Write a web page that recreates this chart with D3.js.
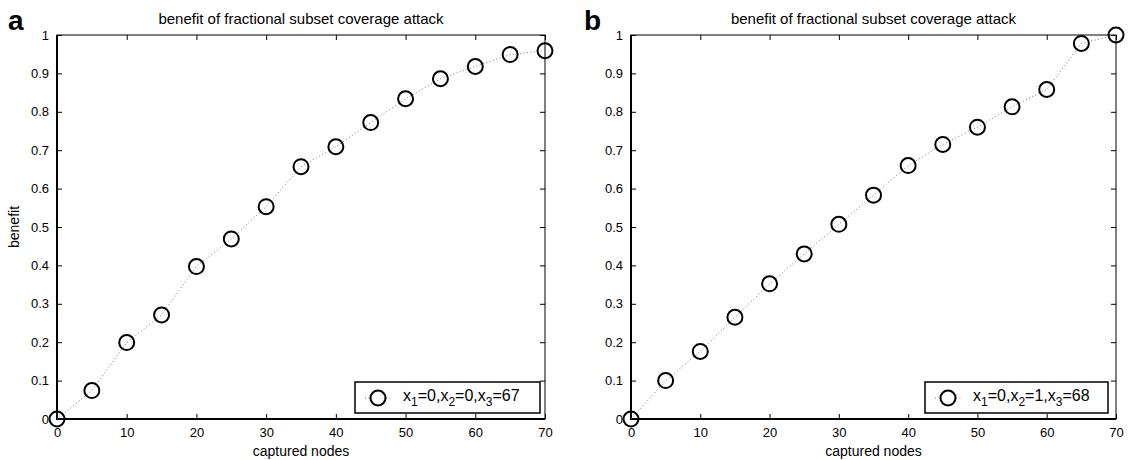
<!DOCTYPE html>
<html>
<head>
<meta charset="utf-8">
<script src="https://cdn.jsdelivr.net/npm/d3@7"></script>
<style>
  body { margin: 0; background: #fff; }
  svg { font-family: "Liberation Sans", Arial, sans-serif; }
</style>
</head>
<body>
<div id="chart"></div>
<script>
// captured nodes (x values)
var nodes = [0, 5, 10, 15, 20, 25, 30, 35, 40, 45, 50, 55, 60, 65, 70];
// benefit, panel a
var benefitA = [0, 0.074, 0.199, 0.271, 0.397, 0.469, 0.553, 0.657, 0.709, 0.772, 0.834, 0.886, 0.918, 0.949, 0.959];
// benefit, panel b
var benefitB = [0, 0.100, 0.176, 0.265, 0.352, 0.430, 0.507, 0.583, 0.660, 0.715, 0.760, 0.813, 0.858, 0.978, 1.0];

var xTicks = [0, 10, 20, 30, 40, 50, 60, 70];
var yTicks = [0, 0.1, 0.2, 0.3, 0.4, 0.5, 0.6, 0.7, 0.8, 0.9, 1];
var panelLetters = ["a", "b"];
var titleText = "benefit of fractional subset coverage attack";
var xLabel = "captured nodes";
var yLabel = "benefit";
// legend: x1, x2, x3 values per panel
var legendA = ["0", "0", "67"];
var legendB = ["0", "1", "68"];

var width = 1128, height = 460;

var svg = d3.select("#chart").append("svg")
  .attr("width", width)
  .attr("height", height);

// one panel per data set
var panels = [
  { letter: panelLetters[0], values: benefitA, legend: legendA, left: 57, right: 545, letterX: 8, legRight: 540 },
  { letter: panelLetters[1], values: benefitB, legend: legendB, left: 631, right: 1116, letterX: 584, legRight: 1108 }
];

var plotTop = 35, plotBottom = 419;

panels.forEach(function(p) {
  var x = d3.scaleLinear().domain([0, 70]).range([p.left, p.right]);
  var y = d3.scaleLinear().domain([0, 1]).range([plotBottom, plotTop]);
  var g = svg.append("g");

  // panel letter
  g.append("text")
    .attr("x", p.letterX)
    .attr("y", 30)
    .attr("font-size", 28)
    .attr("font-weight", "bold")
    .text(p.letter);

  // title
  g.append("text")
    .attr("x", (p.left + p.right) / 2)
    .attr("y", 24)
    .attr("text-anchor", "middle")
    .attr("font-size", 15)
    .text(titleText);

  // axes (ticks inward, matlab style)
  var bottomAxis = d3.axisBottom(x).tickValues(xTicks).tickSize(-5).tickPadding(9)
    .tickFormat(d3.format("d"));
  var leftAxis = d3.axisLeft(y).tickValues(yTicks).tickSize(-5).tickPadding(8)
    .tickFormat(function(d) { return d === 0 || d === 1 ? d : d3.format(".1f")(d); });

  var gx = g.append("g").attr("transform", "translate(0," + plotBottom + ")").call(bottomAxis);
  var gy = g.append("g").attr("transform", "translate(" + p.left + ",0)").call(leftAxis);
  var gxt = g.append("g").attr("transform", "translate(0," + plotTop + ")")
    .call(d3.axisTop(x).tickValues(xTicks).tickSize(-5).tickFormat(""));
  var gyr = g.append("g").attr("transform", "translate(" + p.right + ",0)")
    .call(d3.axisRight(y).tickValues(yTicks).tickSize(-5).tickFormat(""));

  [gx, gy, gxt, gyr].forEach(function(a) {
    a.select(".domain").remove();
    a.selectAll(".tick line").attr("stroke", "#000").attr("stroke-width", 1);
    a.selectAll(".tick text").attr("font-size", 13).attr("fill", "#000")
      .attr("font-family", "Liberation Sans, Arial, sans-serif");
  });

  // box
  g.append("rect")
    .attr("x", p.left)
    .attr("y", plotTop)
    .attr("width", p.right - p.left)
    .attr("height", plotBottom - plotTop)
    .attr("fill", "none")
    .attr("stroke", "#000")
    .attr("stroke-width", 1);
  // thicker left and bottom axis lines
  g.append("path")
    .attr("d", "M" + p.left + "," + plotTop + "V" + plotBottom + "H" + p.right)
    .attr("fill", "none")
    .attr("stroke", "#000")
    .attr("stroke-width", 2);

  // axis labels
  g.append("text")
    .attr("x", (p.left + p.right) / 2)
    .attr("y", 456)
    .attr("text-anchor", "middle")
    .attr("font-size", 14)
    .text(xLabel);
  if (p.letter === "a") {
    g.append("text")
      .attr("transform", "translate(19," + ((plotTop + plotBottom) / 2) + ") rotate(-90)")
      .attr("text-anchor", "middle")
      .attr("font-size", 14)
      .text(yLabel);
  }

  var pts = nodes.map(function(n, i) { return [n, p.values[i]]; });

  // dotted line
  g.append("path")
    .datum(pts)
    .attr("fill", "none")
    .attr("stroke", "#777")
    .attr("stroke-width", 1)
    .attr("stroke-dasharray", "1,2.5")
    .attr("d", d3.line().x(function(d) { return x(d[0]); }).y(function(d) { return y(d[1]); }));

  // circle markers
  g.selectAll("circle.pt")
    .data(pts)
    .enter().append("circle")
      .attr("class", "pt")
      .attr("cx", function(d) { return x(d[0]); })
      .attr("cy", function(d) { return y(d[1]); })
      .attr("r", 7.5)
      .attr("fill", "none")
      .attr("stroke", "#000")
      .attr("stroke-width", 2);

  // legend
  var lw = p.letter === "a" ? 185 : 183, ly = 382;
  var bx = p.legRight - lw;
  var leg = g.append("g");
  leg.append("rect")
    .attr("x", bx)
    .attr("y", ly)
    .attr("width", lw)
    .attr("height", 31)
    .attr("fill", "#fff")
    .attr("stroke", "#000")
    .attr("stroke-width", 1.5);
  leg.append("line")
    .attr("x1", bx + 10).attr("x2", bx + 36)
    .attr("y1", ly + 16).attr("y2", ly + 16)
    .attr("stroke", "#777")
    .attr("stroke-dasharray", "1,2.5");
  leg.append("circle")
    .attr("cx", bx + 23).attr("cy", ly + 16).attr("r", 7.5)
    .attr("fill", "#fff").attr("stroke", "#000").attr("stroke-width", 2);
  var t = leg.append("text")
    .attr("x", bx + 48)
    .attr("y", ly + 19)
    .attr("font-size", 16);
  p.legend.forEach(function(v, i) {
    t.append("tspan").text((i > 0 ? "," : "") + "x");
    t.append("tspan").attr("dy", 5).attr("font-size", 12).text(i + 1);
    t.append("tspan").attr("dy", -5).text("=" + v);
  });
});
</script>
</body>
</html>
